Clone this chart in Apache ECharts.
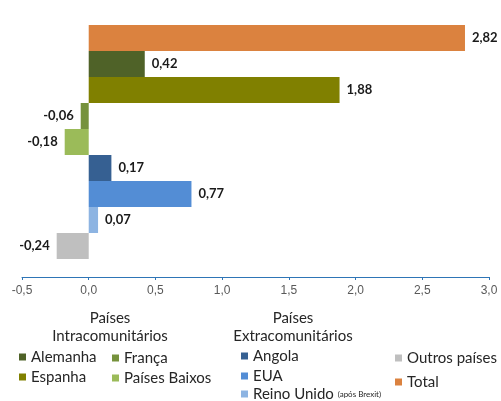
<!DOCTYPE html>
<html>
<head>
<meta charset="utf-8">
<script src="https://cdn.jsdelivr.net/npm/echarts@6/dist/echarts.min.js"></script>
<style>html,body{margin:0;padding:0;background:#fff}#c{width:501px;height:401px}</style>
</head>
<body>
<div id="c"></div>
<script>
var categories = ['Total','Alemanha','Espanha','França','Países Baixos','Angola','EUA','Reino Unido','Outros países'];
var values = [2.82, 0.42, 1.88, -0.06, -0.18, 0.17, 0.77, 0.07, -0.24];
var colors = ['#DB823F','#4F6228','#808000','#76923C','#9BBB59','#366092','#538DD5','#8DB4E2','#BFBFBF'];
var xTicks = {min: -0.5, max: 3.0, interval: 0.5};

var FONT = 'Lato';
var series = categories.map(function(name, i){
  var data = categories.map(function(_, j){
    if (j !== i) return null;
    return {value: values[i], label: {position: values[i] < 0 ? 'left' : 'right'}};
  });
  return {
    name: name, type: 'bar', stack: 'all', barWidth: '100%',
    itemStyle: {color: colors[i]},
    label: {show: true, distance: 7, fontFamily: FONT, fontSize: 13, fontWeight: 'bold', color: '#1a1a1a',
      formatter: function(p){ return p.value == null ? '' : p.value.toFixed(2).replace('.', ','); }},
    data: data
  };
});

function legendItem(name, left, centerY){
  return {
    data: [name], orient: 'horizontal', left: left, top: centerY - 9,
    itemWidth: 7, itemHeight: 7, icon: 'rect', padding: 0,
    textStyle: {fontFamily: FONT, fontSize: 15, color: '#262626', lineHeight: 18,
      rich: {s: {fontFamily: FONT, fontSize: 8, color: '#262626'}}},
    formatter: function(n){ return n === 'Reino Unido' ? 'Reino Unido {s|(após Brexit)}' : n; },
    selectedMode: false
  };
}

var chart = echarts.init(document.getElementById('c'), null, {renderer: 'canvas'});
chart.setOption({
  animation: false,
  grid: {left: 22, right: 12, top: 25, bottom: 142, containLabel: false},
  xAxis: {
    type: 'value', min: xTicks.min, max: xTicks.max, interval: xTicks.interval, offset: 18,
    axisLine: {show: true, lineStyle: {color: '#2E75B6', width: 1}},
    axisTick: {show: true, length: 3, lineStyle: {color: '#2E75B6'}},
    splitLine: {show: false},
    axisLabel: {margin: 8, fontFamily: 'Liberation Sans', fontSize: 12, color: '#595959',
      formatter: function(v){ return v.toFixed(1).replace('.', ','); }}
  },
  yAxis: {type: 'category', data: categories, inverse: true, show: false},
  legend: [
    legendItem('Alemanha', 19, 357),
    legendItem('Espanha', 19, 377),
    legendItem('França', 112, 358),
    legendItem('Países Baixos', 112, 378),
    legendItem('Angola', 241, 356),
    legendItem('EUA', 241, 376),
    legendItem('Reino Unido', 241, 394),
    legendItem('Outros países', 395, 358),
    legendItem('Total', 395, 382)
  ],
  graphic: [
    {type: 'text', style: {text: 'Países', fontFamily: FONT, fontSize: 15, fill: '#262626', textAlign: 'center'}, position: [110, 311]},
    {type: 'text', style: {text: 'Intracomunitários', fontFamily: FONT, fontSize: 15, fill: '#262626', textAlign: 'center'}, position: [110, 329]},
    {type: 'text', style: {text: 'Países', fontFamily: FONT, fontSize: 15, fill: '#262626', textAlign: 'center'}, position: [293, 311]},
    {type: 'text', style: {text: 'Extracomunitários', fontFamily: FONT, fontSize: 15, fill: '#262626', textAlign: 'center'}, position: [293, 329]}
  ],
  series: series
});
</script>
</body>
</html>
